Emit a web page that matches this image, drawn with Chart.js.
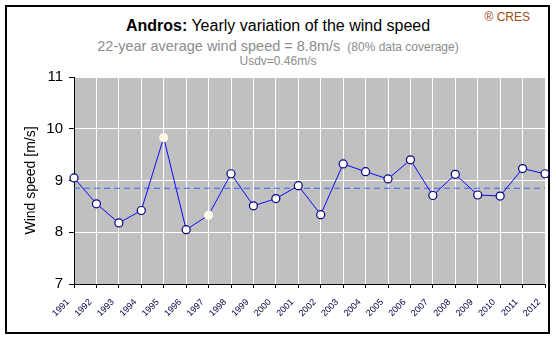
<!DOCTYPE html>
<html>
<head>
<meta charset="utf-8">
<script src="https://cdn.jsdelivr.net/npm/chart.js@4"></script>
<style>
    body { margin: 0; background: #fff; font-family: Arial, "Liberation Sans", sans-serif; }
    #wrap { position: relative; width: 556px; height: 339px; overflow: hidden; }
    #frame { position: absolute; left: 5px; top: 5px; width: 541px; height: 325px; border: 2px solid #000; }
    .txt { position: absolute; left: 0; width: 556px; text-align: center; line-height: 1; white-space: nowrap; }
    #title { top: 17.5px; font-size: 16px; color: #000; }
    #sub { top: 38.7px; font-size: 14.5px; color: #8c8c8c; }
    #sub span { font-size: 12px; margin-left: 7px; }
    #usdv { top: 54.8px; font-size: 12px; color: #8c8c8c; }
    #cres { position: absolute; top: 11.3px; right: 26px; font-size: 12px; line-height: 1; color: #a34a10; }
    canvas { position: absolute; left: 0; top: 0; }
</style>
</head>
<body>
<div id="wrap">
    <div id="frame"></div>
    <div id="title" class="txt"><b>Andros:</b> Yearly variation of the wind speed</div>
    <div id="sub" class="txt">22-year average wind speed = 8.8m/s<span>(80% data coverage)</span></div>
    <div id="usdv" class="txt">Usdv=0.46m/s</div>
    <div id="cres">® CRES</div>
    <canvas id="windCanvas" width="556" height="339"></canvas>
</div>
<script>
// values
var years = ['1991', '1992', '1993', '1994', '1995', '1996', '1997', '1998', '1999', '2000', '2001',
             '2002', '2003', '2004', '2005', '2006', '2007', '2008', '2009', '2010', '2011', '2012'];
var windSpeed = [9.05, 8.55, 8.18, 8.42, 9.83, 8.05, 8.33, 9.13, 8.51, 8.65, 8.90,
                 8.34, 9.32, 9.17, 9.03, 9.40, 8.71, 9.12, 8.72, 8.70, 9.23, 9.13];
var averageSpeed = 8.85;
// years with partial data coverage (drawn as pale points)
var partialYears = ['1995', '1997'];
var yTicks = [7, 8, 9, 10, 11];

var navy = '#000080';
var pale = '#fffbe8';

var pointFill = years.map(function (y) { return partialYears.indexOf(y) >= 0 ? pale : '#ffffff'; });
var pointEdge = years.map(function (y) { return partialYears.indexOf(y) >= 0 ? pale : navy; });

var plotBackground = {
    id: 'plotBackground',
    beforeDraw: function (chart) {
        var a = chart.chartArea;
        var ctx = chart.ctx;
        ctx.save();
        ctx.fillStyle = '#c0c0c0';
        ctx.fillRect(a.left, a.top, a.right - a.left, a.bottom - a.top);
        ctx.restore();
    }
};

window.onload = function () {
    var ctx = document.getElementById('windCanvas').getContext('2d');
    Chart.defaults.font.family = 'Arial, "Liberation Sans", sans-serif';

    new Chart(ctx, {
        type: 'line',
        data: {
            labels: years,
            datasets: [
                {
                    label: 'Wind speed',
                    data: windSpeed,
                    borderColor: '#0a0aff',
                    borderWidth: 1,
                    pointRadius: 4,
                    pointBorderWidth: 1.2,
                    pointBackgroundColor: pointFill,
                    pointBorderColor: pointEdge,
                    tension: 0,
                    order: 0
                },
                {
                    label: 'Average',
                    data: years.map(function () { return averageSpeed; }),
                    borderColor: '#3366ff',
                    borderWidth: 1,
                    borderDash: [6, 4],
                    pointRadius: 0,
                    order: 1
                }
            ]
        },
        options: {
            responsive: false,
            animation: false,
            layout: { padding: { top: 77, right: 11, left: 0, bottom: 0 } },
            plugins: {
                legend: { display: false },
                tooltip: { enabled: false }
            },
            scales: {
                x: {
                    offset: false,
                    grid: { color: '#ffffff', lineWidth: 1, tickColor: '#000', tickLength: 4 },
                    border: { color: '#000', width: 1 },
                    ticks: {
                        minRotation: 45,
                        maxRotation: 45,
                        autoSkip: false,
                        padding: 9,
                        labelOffset: -6,
                        color: '#000040',
                        font: { size: 9 }
                    },
                    afterFit: function (s) {
                        s.height = 55;
                        s.paddingLeft = 0;
                        s.paddingRight = 0;
                    }
                },
                y: {
                    min: 7,
                    max: 11,
                    afterBuildTicks: function (s) {
                        s.ticks = yTicks.map(function (v) { return { value: v }; });
                    },
                    grid: { color: '#ffffff', lineWidth: 1, tickColor: '#000', tickLength: 5 },
                    border: { color: '#000', width: 1 },
                    ticks: { padding: 6, color: '#000', font: { size: 15 } },
                    title: {
                        display: true,
                        text: 'Wind speed [m/s]',
                        color: '#000',
                        font: { size: 14 },
                        padding: { top: 23, bottom: 0 }
                    },
                    afterFit: function (s) {
                        s.width = 74;
                    }
                }
            }
        },
        plugins: [plotBackground]
    });
};
</script>
</body>
</html>
